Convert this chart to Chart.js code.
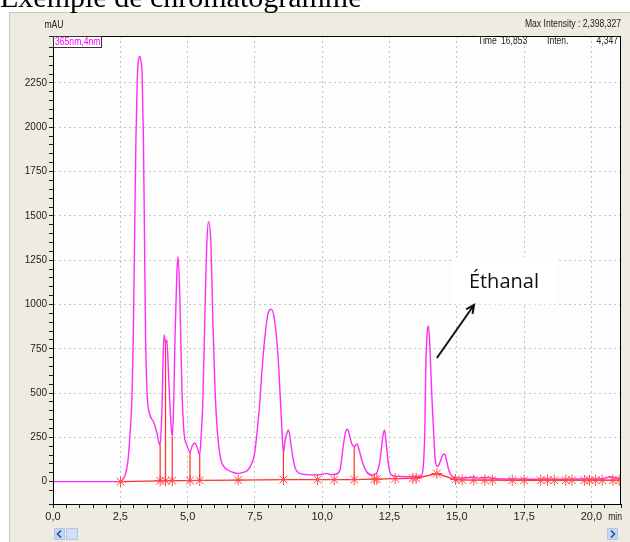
<!DOCTYPE html>
<html>
<head>
<meta charset="utf-8">
<script src="https://cdn.jsdelivr.net/npm/chart.js@4/dist/chart.umd.min.js"></script>
<style>
  body { margin: 0; background: #fff; }
  canvas { display: block; }
</style>
</head>
<body>
<canvas id="chromato" width="630" height="542"></canvas>
<script>
// --- data (time in min, intensity in mAU) ---
const traceTime = [0.00, 2.40, 2.51, 2.62, 2.70, 2.77, 2.82, 2.87, 2.92, 2.98, 3.03, 3.08, 3.13, 3.18, 3.23, 3.27, 3.31, 3.36, 3.40, 3.44,
  3.48, 3.51, 3.60, 3.73, 3.85, 3.94, 3.98, 4.02, 4.05, 4.09, 4.13, 4.18, 4.23, 4.29, 4.38, 4.43, 4.48, 4.53, 4.60, 4.65,
  4.72, 4.79, 4.87, 4.97, 5.09, 5.18, 5.27, 5.36, 5.45, 5.50, 5.56, 5.65, 5.72, 5.78, 5.87, 5.94, 6.02, 6.12, 6.24, 6.35,
  6.49, 6.70, 6.88, 7.05, 7.24, 7.40, 7.49, 7.58, 7.67, 7.76, 7.86, 7.99, 8.11, 8.23, 8.36, 8.46, 8.52, 8.56, 8.62, 8.67,
  8.75, 8.85, 8.98, 9.16, 9.40, 9.80, 10.00, 10.16, 10.30, 10.50, 10.66, 10.78, 10.86, 10.94, 11.02, 11.09, 11.19, 11.29, 11.38, 11.47,
  11.65, 11.84, 12.00, 12.15, 12.24, 12.31, 12.37, 12.44, 12.56, 12.80, 13.20, 13.50, 13.68, 13.75, 13.81, 13.85, 13.90, 13.95, 14.00, 14.08,
  14.15, 14.20, 14.29, 14.40, 14.48, 14.54, 14.62, 14.70, 14.80, 14.89, 15.10, 15.40, 15.60, 15.80, 16.10, 16.40, 16.80, 17.30, 17.80, 18.30,
  18.80, 19.30, 19.80, 20.20, 20.50, 20.70, 20.85, 21.10];
const traceMAU = [0, 0, 2, 18, 47, 100, 179, 290, 423, 800, 1364, 1928, 2267, 2385, 2400, 2370, 2304, 1928, 1364, 800,
  560, 461, 376, 339, 282, 217, 207, 300, 423, 700, 828, 785, 800, 613, 331, 254, 420, 800, 1176, 1270,
  988, 517, 273, 207, 169, 205, 218, 190, 151, 250, 423, 988, 1364, 1467, 1326, 894, 517, 254, 122, 85,
  66, 52, 47, 52, 66, 110, 160, 280, 423, 620, 800, 950, 973, 912, 706, 423, 250, 162, 230, 263,
  292, 198, 85, 47, 40, 38, 42, 47, 40, 42, 66, 198, 275, 296, 260, 217, 198, 213, 175, 122,
  56, 38, 45, 122, 240, 292, 230, 122, 38, 30, 28, 28, 32, 80, 273, 649, 840, 879, 760, 461,
  250, 122, 85, 120, 150, 156, 120, 66, 35, 25, 20, 22, 26, 20, 24, 18, 15, 16, 14, 15,
  14, 15, 16, 15, 18, 28, 22, 18];

// integration marks (asterisks) and the baseline joining them
const markerTime = [2.51, 3.98, 4.18, 4.43, 5.09, 5.45, 6.88, 8.56, 9.83, 10.45, 11.19, 11.94, 12.03, 12.71, 13.37, 13.49, 14.26, 14.95,
  15.20, 15.63, 16.04, 16.32, 17.06, 17.50, 18.12, 18.37, 18.62, 19.05, 19.28, 19.74, 19.93, 20.15, 20.40, 20.80, 21.03];
const markerBase = [0, 5, 5, 6, 6, 7, 9, 12, 12, 12, 12, 14, 14, 17, 19, 19, 46, 12,
  10, 9, 9, 9, 8, 8, 8, 8, 8, 8, 8, 8, 8, 8, 8, 8, 8];

// vertical drop lines between baseline and valley
const dropTime = [3.98, 4.18, 4.43, 5.09, 5.45, 8.56, 11.19];
const dropTop = [207, 785, 254, 169, 151, 162, 198];

const xMin = 0, xMax = 21.1;
const yMin = -126, yMax = 2515;

const tracePoints = traceTime.map((t, i) => ({ x: t, y: traceMAU[i] }));
const markerPoints = markerTime.map((t, i) => ({ x: t, y: markerBase[i] }));
const dropPoints = [];
dropTime.forEach((t, i) => {
    const base = markerBase[markerTime.indexOf(t)] || 0;
    dropPoints.push({ x: t, y: base }, { x: t, y: dropTop[i] }, { x: t, y: null });
});

const isMajor = (v, step) => Math.abs(v / step - Math.round(v / step)) < 1e-6;
const narrow = '"Liberation Sans Narrow", "Arial Narrow", "Liberation Sans", Arial, sans-serif';

// === frame, texts, annotation ===
const decor = {
    id: "decor",
    beforeDraw(chart) {
        const { ctx, chartArea: a } = chart;
        ctx.save();
        ctx.fillStyle = "#ffffff";
        ctx.fillRect(0, 0, chart.width, chart.height);
        ctx.fillStyle = "#eeebe1";
        ctx.fillRect(9, 12, chart.width - 9, chart.height - 12);
        ctx.strokeStyle = "#c9c5b8";
        ctx.beginPath();
        ctx.moveTo(9.5, 12); ctx.lineTo(9.5, chart.height);
        ctx.moveTo(9, 12.5); ctx.lineTo(chart.width, 12.5);
        ctx.stroke();
        ctx.fillStyle = "#fdfdfd";
        ctx.fillRect(a.left, a.top, a.right - a.left, a.bottom - a.top);
        ctx.restore();
    },
    afterDraw(chart) {
        const { ctx, chartArea: a, scales: { x, y } } = chart;
        ctx.save();

        // box
        ctx.strokeStyle = "#000";
        ctx.lineWidth = 1;
        ctx.strokeRect(a.left + 0.5, a.top + 0.5, a.right - a.left - 1, a.bottom - a.top);

        // title
        ctx.fillStyle = "#000";
        ctx.font = '30px "Liberation Serif", "Times New Roman", serif';
        ctx.textBaseline = "alphabetic";
        ctx.textAlign = "left";
        ctx.fillText("Exemple de chromatogramme", 0, 7);

        // header texts (condensed look)
        const small = (txt, px, py, align) => {
            ctx.save();
            ctx.translate(px, py);
            ctx.scale(0.86, 1);
            ctx.textAlign = align;
            ctx.fillText(txt, 0, 0);
            ctx.restore();
        };
        ctx.fillStyle = "#222";
        ctx.font = "10px " + narrow;
        ctx.textBaseline = "middle";
        small("mAU", a.left + 1, 25, "center");
        small("Max Intensity : 2,398,327", a.right, 24, "right");
        small("Time", 478, 41, "left");
        small("16,853", 501, 41, "left");
        small("Inten.", 547, 41, "left");
        small("4,347", a.right - 3, 41, "right");
        small("min", 622, 517, "right");

        // wavelength label
        ctx.fillStyle = "#fff";
        ctx.fillRect(a.left, a.top, 48, 11);
        ctx.strokeStyle = "#333";
        ctx.strokeRect(a.left + 0.5, a.top + 0.5, 48, 11);
        ctx.fillStyle = "#ff00ff";
        ctx.font = "10px " + narrow;
        small("365nm,4nm", a.left + 2, a.top + 6.5, "left");

        // Éthanal annotation
        const x1 = x.getPixelForValue(14.26), y1 = y.getPixelForValue(698);
        const x2 = x.getPixelForValue(15.64), y2 = y.getPixelForValue(997);
        const lx = x.getPixelForValue(16.75), ly = y.getPixelForValue(1130);
        ctx.fillStyle = "#ffffff";
        ctx.fillRect(lx - 52, ly - 24, 104, 47);
        ctx.fillStyle = "#111";
        ctx.font = '20px "Open Sans", "Liberation Sans", sans-serif';
        ctx.textAlign = "center";
        ctx.textBaseline = "middle";
        ctx.fillText("Éthanal", lx, ly + 1);
        ctx.strokeStyle = "#111";
        ctx.lineWidth = 2;
        ctx.beginPath();
        ctx.moveTo(x1, y1);
        ctx.lineTo(x2, y2);
        const ang = Math.atan2(y2 - y1, x2 - x1);
        ctx.moveTo(x2 - 9 * Math.cos(ang - 0.45), y2 - 9 * Math.sin(ang - 0.45));
        ctx.lineTo(x2, y2);
        ctx.lineTo(x2 - 9 * Math.cos(ang + 0.45), y2 - 9 * Math.sin(ang + 0.45));
        ctx.stroke();

        // scroll bar buttons
        const btn = (bx, w, fill) => {
            ctx.fillStyle = fill;
            ctx.fillRect(bx, 528, w, 12);
            ctx.strokeStyle = "#b4c4e8";
            ctx.lineWidth = 1;
            ctx.strokeRect(bx + 0.5, 528.5, w - 1, 11);
        };
        btn(54, 11, "#c6d5f6");
        btn(66, 12, "#d3def7");
        btn(607, 11, "#c6d5f6");
        ctx.strokeStyle = "#2c48a8";
        ctx.lineWidth = 1.6;
        ctx.beginPath();
        ctx.moveTo(61, 530.5); ctx.lineTo(57.5, 534); ctx.lineTo(61, 537.5);
        ctx.moveTo(611, 530.5); ctx.lineTo(614.5, 534); ctx.lineTo(611, 537.5);
        ctx.stroke();

        ctx.restore();
    }
};

new Chart(document.getElementById("chromato"), {
    type: "line",
    data: {
        datasets: [
            {
                label: "drops",
                data: dropPoints,
                borderColor: "#ff3030",
                borderWidth: 1.2,
                pointRadius: 0,
                spanGaps: false
            },
            {
                label: "baseline",
                data: markerPoints,
                borderColor: "#ff3030",
                borderWidth: 1.3,
                pointStyle: "star",
                pointRadius: 5.5,
                pointBorderColor: "#ff4a4a",
                pointBorderWidth: 1
            },
            {
                label: "365nm,4nm",
                data: tracePoints,
                borderColor: "#ff2cf5",
                borderWidth: 1.4,
                pointRadius: 0,
                cubicInterpolationMode: "monotone"
            }
        ]
    },
    options: {
        responsive: false,
        devicePixelRatio: 1,
        animation: false,
        layout: { padding: { left: 0, top: 36, right: 9, bottom: 0 } },
        plugins: {
            legend: { display: false },
            tooltip: { enabled: false }
        },
        scales: {
            x: {
                type: "linear",
                min: xMin,
                max: xMax,
                afterFit: (s) => { s.height = 38; },
                border: { color: "#000", width: 1, dash: [2, 3] },
                grid: {
                    color: (c) => (c.tick && c.tick.value > 0 && isMajor(c.tick.value, 2.5)) ? "#c4c4c4" : "rgba(0,0,0,0)",
                    tickColor: "#222",
                    tickLength: 4
                },
                ticks: {
                    stepSize: 0.5,
                    autoSkip: false,
                    maxRotation: 0,
                    padding: 2,
                    color: "#222",
                    font: { family: narrow, size: 11 },
                    callback: (v) => (isMajor(v, 2.5) && v <= 20) ? v.toFixed(1).replace(".", ",") : ""
                }
            },
            y: {
                min: yMin,
                max: yMax,
                afterFit: (s) => { s.width = 53; },
                border: { color: "#000", width: 1, dash: [2, 3] },
                grid: {
                    color: (c) => (c.tick && c.tick.value > 0 && isMajor(c.tick.value, 250)) ? "#c4c4c4" : "rgba(0,0,0,0)",
                    tickColor: "#222",
                    tickLength: 4
                },
                ticks: {
                    stepSize: 50,
                    autoSkip: false,
                    padding: 2,
                    color: "#222",
                    font: { family: narrow, size: 10 },
                    callback: (v) => (v >= 0 && isMajor(v, 250)) ? String(v) : ""
                }
            }
        }
    },
    plugins: [decor]
});
</script>
</body>
</html>
